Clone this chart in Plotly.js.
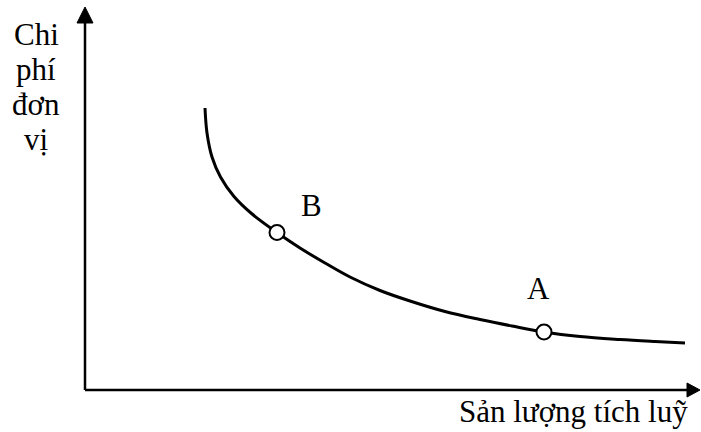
<!DOCTYPE html>
<html>
<head>
<meta charset="utf-8">
<script src="https://cdn.plot.ly/plotly-3.0.1.min.js"></script>
<style>
  html, body { margin: 0; padding: 0; background: #fff; }
  #chart { width: 701px; height: 432px; }
</style>
</head>
<body>
<div id="chart"></div>
<script>
// Learning curve: unit cost falls as cumulative output grows (arbitrary units)
const output = [120, 122, 127, 135.5, 149, 166.5, 192, 215, 240, 265, 295, 325, 360, 395, 427, 459, 495, 535, 570, 600];
const unitCost = [282, 257, 233, 213, 193.5, 176.5, 157.5, 142, 127, 113, 99.5, 89, 78.5, 70.5, 64, 58, 53.5, 50.5, 48.5, 47];

// Marked points on the curve
const pointLabels = ['B', 'A'];
const pointOutput = [192, 459];
const pointCost = [157.5, 58];

// Vertical axis title, one word per line
const yTitleLines = ['Chi', 'phí', 'đơn', 'vị'];
const xTitle = 'Sản lượng tích luỹ';

const FONT = 'Liberation Serif, Times New Roman, serif';
const TEXT_FONT = { family: FONT, size: 31, color: '#000' };

const traces = [
  {
    x: output, y: unitCost, mode: 'lines', type: 'scatter',
    line: { color: '#000', width: 3, shape: 'spline', smoothing: 1 },
    hoverinfo: 'skip'
  },
  {
    x: pointOutput, y: pointCost, mode: 'markers', type: 'scatter',
    marker: { size: 15, color: '#fff', line: { color: '#000', width: 2 } },
    hoverinfo: 'skip'
  }
];

// axis lines with arrowheads
const shapes = [
  { type: 'line', xref: 'x', yref: 'y', x0: 0, y0: 0, x1: 0, y1: 372, line: { color: '#000', width: 2.5 } },
  { type: 'line', xref: 'x', yref: 'y', x0: 0, y0: 0, x1: 605, y1: 0, line: { color: '#000', width: 2.5 } },
  { type: 'path', xref: 'x', yref: 'y', path: 'M -8,367 L 8,367 L 0,383 Z', fillcolor: '#000', line: { color: '#000', width: 1 } },
  { type: 'path', xref: 'x', yref: 'y', path: 'M 602,-7 L 602,7 L 615,0 Z', fillcolor: '#000', line: { color: '#000', width: 1 } }
];

const annotations = [
  { x: 226, y: 185, text: pointLabels[0], showarrow: false, xref: 'x', yref: 'y', font: TEXT_FONT },
  { x: 453, y: 102, text: pointLabels[1], showarrow: false, xref: 'x', yref: 'y', font: TEXT_FONT },
  { x: 488, y: -21, text: xTitle, showarrow: false, xref: 'x', yref: 'y', font: TEXT_FONT }
];

const yTitleY = [356, 321, 286, 251];
yTitleLines.forEach((t, i) => {
  annotations.push({
    x: -49, y: yTitleY[i], text: t, showarrow: false, xref: 'x', yref: 'y',
    xanchor: 'center', yanchor: 'middle', align: 'center', font: TEXT_FONT
  });
});

const layout = {
  width: 701, height: 432,
  margin: { l: 0, r: 0, t: 0, b: 0 },
  paper_bgcolor: '#fff', plot_bgcolor: '#fff',
  showlegend: false,
  xaxis: { range: [-85, 616], visible: false, fixedrange: true },
  yaxis: { range: [-42, 390], visible: false, fixedrange: true },
  shapes: shapes,
  annotations: annotations
};

Plotly.newPlot('chart', traces, layout, { staticPlot: true, displayModeBar: false });
</script>
</body>
</html>
